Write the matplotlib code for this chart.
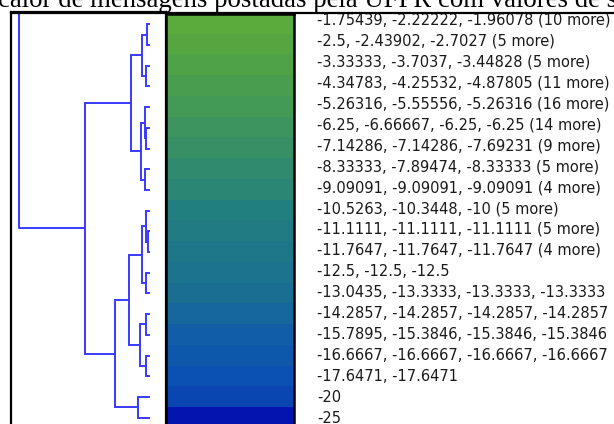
import matplotlib
matplotlib.use("Agg")
import matplotlib.pyplot as plt
import numpy as np
from matplotlib.colors import LinearSegmentedColormap, Normalize
from matplotlib.lines import Line2D

W, H = 614, 424

title = "calor de mensagens postadas pela UFPR com valores de sentimento negativo"

labels = [
    "-1.75439, -2.22222, -1.96078 (10 more)",
    "-2.5, -2.43902, -2.7027 (5 more)",
    "-3.33333, -3.7037, -3.44828 (5 more)",
    "-4.34783, -4.25532, -4.87805 (11 more)",
    "-5.26316, -5.55556, -5.26316 (16 more)",
    "-6.25, -6.66667, -6.25, -6.25 (14 more)",
    "-7.14286, -7.14286, -7.69231 (9 more)",
    "-8.33333, -7.89474, -8.33333 (5 more)",
    "-9.09091, -9.09091, -9.09091 (4 more)",
    "-10.5263, -10.3448, -10 (5 more)",
    "-11.1111, -11.1111, -11.1111 (5 more)",
    "-11.7647, -11.7647, -11.7647 (4 more)",
    "-12.5, -12.5, -12.5",
    "-13.0435, -13.3333, -13.3333, -13.3333",
    "-14.2857, -14.2857, -14.2857, -14.2857",
    "-15.7895, -15.3846, -15.3846, -15.3846",
    "-16.6667, -16.6667, -16.6667, -16.6667",
    "-17.6471, -17.6471",
    "-20",
    "-25",
]

values = [-1.75439, -2.5, -3.33333, -4.34783, -5.26316, -6.25, -7.14286,
          -8.33333, -9.09091, -10.5263, -11.1111, -11.7647, -12.5, -13.0435,
          -14.2857, -15.7895, -16.6667, -17.6471, -20, -25]

# dendrogram merges: (a, b, height), new clusters numbered from 20 on
merges = [
    (0, 1, 2.0),
    (2, 3, 3.3),
    (20, 21, 7.0),
    (5, 6, 3.5),
    (4, 23, 4.2),
    (7, 8, 4.3),
    (24, 25, 8.3),
    (22, 26, 18.3),
    (10, 11, 1.5),
    (9, 28, 3.3),
    (12, 13, 3.3),
    (29, 30, 7.0),
    (14, 15, 3.3),
    (16, 17, 3.3),
    (32, 33, 8.7),
    (31, 34, 20.0),
    (18, 19, 11.3),
    (35, 36, 34.3),
    (27, 37, 64.0),
]
root_height = 130.0

# dark blue at the lowest value, green at the highest
cmap = LinearSegmentedColormap.from_list(
    "bg", [(0.0, "#0414ae"), (0.215, "#0a46b2"), (0.316, "#0c52b4"),
           (0.624, "#22807f"), (1.0, "#5aaa3c")])


def px_rect(x0, y0, x1, y1):
    return [x0 / W, 1 - y1 / H, (x1 - x0) / W, (y1 - y0) / H]


row_top = 14.0
row_h = 20.7
n = len(values)


def px_to_row(py):
    return (py - row_top) / row_h - 0.5


fig = plt.figure(figsize=(W / 100, H / 100), dpi=100)

# dendrogram
axd = fig.add_axes(px_rect(11, 12, 166, 440))
pos = {i: float(i) for i in range(n)}
hgt = {i: 0.0 for i in range(n)}
k = n
for a, b, h in merges:
    axd.plot([hgt[a], h, h, hgt[b]], [pos[a], pos[a], pos[b], pos[b]],
             color="#3a3aff", lw=1.4, solid_joinstyle="miter")
    pos[k] = (pos[a] + pos[b]) / 2
    hgt[k] = h
    k += 1
top = k - 1
axd.plot([hgt[top], root_height, root_height], [pos[top], pos[top], -5],
         color="#3a3aff", lw=1.4)
axd.set_xlim(149 - 11, 149 - 166)
axd.set_ylim(px_to_row(440), px_to_row(12))
axd.set_xticks([])
axd.set_yticks([])
for s in axd.spines.values():
    s.set_linewidth(1.6)
    s.set_color("black")

# heat column
axh = fig.add_axes(px_rect(166, 13.5, 294, 428))
axh.imshow(np.array(values)[:, None], aspect="auto", cmap=cmap,
           norm=Normalize(vmin=min(values), vmax=max(values)),
           interpolation="nearest")
axh.set_xticks([])
axh.set_yticks([])
for s in axh.spines.values():
    s.set_linewidth(1.8)
    s.set_color("black")

# labels column (its rows are spaced a little wider than the cells)
axl = fig.add_axes(px_rect(317, 9.5, 614, 428.5))
axl.set_ylim(n - 0.5, -0.5)
axl.set_xlim(0, 1)
axl.axis("off")
for i, lab in enumerate(labels):
    axl.text(0, i, lab, va="center", ha="left", fontsize=10.5,
             family="DejaVu Sans", color="#1a1a1a", clip_on=False)

# top border of the whole panel
fig.add_artist(Line2D([11 / W, 1.0], [1 - 12.5 / H, 1 - 12.5 / H],
                      color="black", lw=1.6))

fig.text(-2 / W, 1 - 7 / H, title, family="Liberation Serif", fontsize=19.3,
         va="baseline", ha="left", color="black")

fig.savefig("out.png", dpi=100)
